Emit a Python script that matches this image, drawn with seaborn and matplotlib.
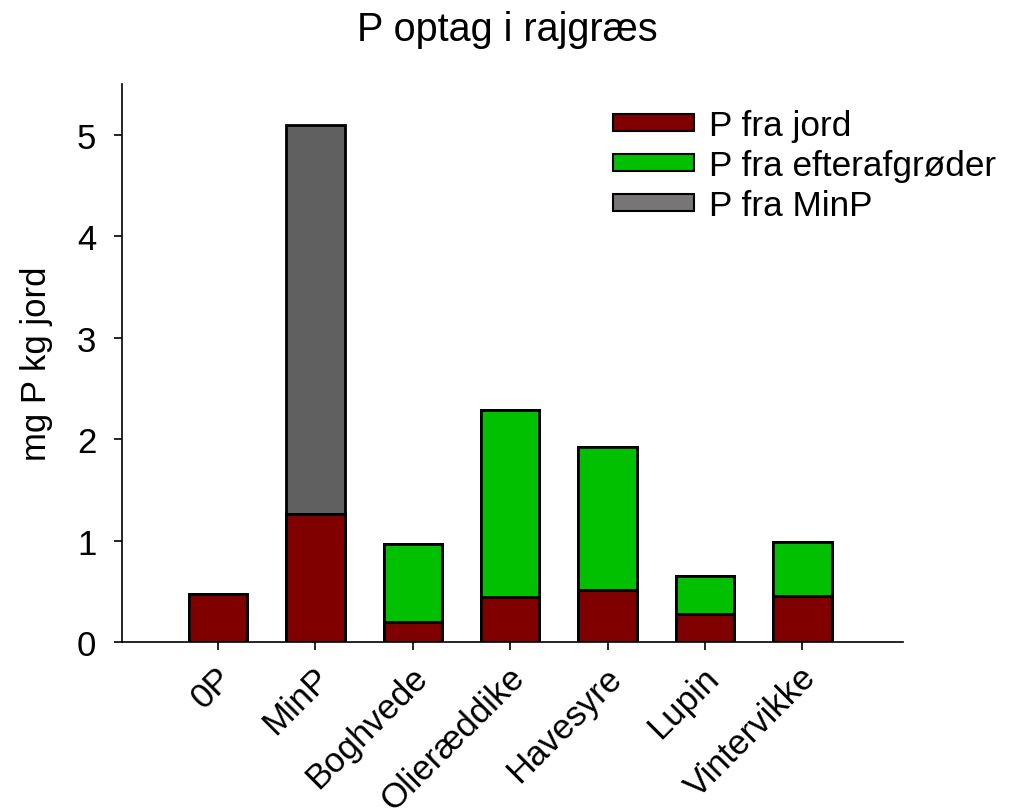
import numpy as np
import pandas as pd
import matplotlib
matplotlib.use("Agg")
import matplotlib.pyplot as plt
import matplotlib.transforms as mtransforms
from matplotlib.patches import Patch
import seaborn as sns

categories = ["0P", "MinP", "Boghvede", "Olieræddike", "Havesyre", "Lupin", "Vintervikke"]
p_jord = [0.47, 1.26, 0.20, 0.44, 0.51, 0.28, 0.45]
p_efterafgroeder = [0.00, 0.00, 0.77, 1.85, 1.41, 0.37, 0.54]
p_minp = [0.00, 3.84, 0.00, 0.00, 0.00, 0.00, 0.00]

series_labels = ["P fra jord", "P fra efterafgrøder", "P fra MinP"]
bar_colors = ["#800000", "#00C000", "#606060"]
legend_colors = ["#800000", "#00C000", "#777575"]

sns.set_style("ticks")
plt.rcParams["font.family"] = ["Liberation Sans", "DejaVu Sans"]
for key in ["text.color", "axes.labelcolor", "xtick.color", "ytick.color", "axes.edgecolor"]:
    plt.rcParams[key] = "black"

fig = plt.figure(figsize=(10.2, 8.12), dpi=100)
ax = fig.add_axes([0.1196, 0.208, 0.7654, 0.687])

# cumulative stacks, drawn from the top layer down
layer1 = np.array(p_jord)
layer2 = layer1 + np.array(p_efterafgroeder)
layer3 = layer2 + np.array(p_minp)

for heights, color in zip([layer3, layer2, layer1], bar_colors[::-1]):
    df = pd.DataFrame({"kategori": categories, "værdi": heights})
    sns.barplot(data=df, x="kategori", y="værdi", color=color, width=0.6,
                edgecolor="black", linewidth=2.0, saturation=1, ax=ax)

ax.set_xlim(-0.985, 7.03)
ax.set_ylim(0, 5.5)
ax.set_yticks([0, 1, 2, 3, 4, 5])
ax.tick_params(axis="y", labelsize=25, direction="out", length=5.5, width=1.2, pad=13)
ax.tick_params(axis="x", labelsize=25, direction="out", length=5.5, width=1.2, pad=16)
ax.set_xticks(range(len(categories)))
ax.set_xticklabels(categories, rotation=45, ha="right", va="center", rotation_mode="anchor")
# nudge the slanted category labels a little to the right
shift = mtransforms.ScaledTranslation(9 / 100, 0, fig.dpi_scale_trans)
for lbl in ax.get_xticklabels():
    lbl.set_transform(lbl.get_transform() + shift)
ax.set_xlabel("")
ax.set_ylabel("mg P kg jord", fontsize=25, labelpad=17)
sns.despine(ax=ax)
for s in ["left", "bottom"]:
    ax.spines[s].set_linewidth(1.2)

fig.suptitle("P optag i rajgræs", fontsize=28.5, x=0.497, y=0.987)

handles = [Patch(facecolor=c, edgecolor="black", linewidth=1.5) for c in legend_colors]
ax.legend(handles, series_labels, loc="upper left", bbox_to_anchor=(0.629, 0.955),
          frameon=False, fontsize=25.3, handlelength=2.3, handleheight=0.38,
          labelspacing=0.2, handletextpad=0.43, borderaxespad=0, borderpad=0)

fig.savefig("out.png", dpi=100)
